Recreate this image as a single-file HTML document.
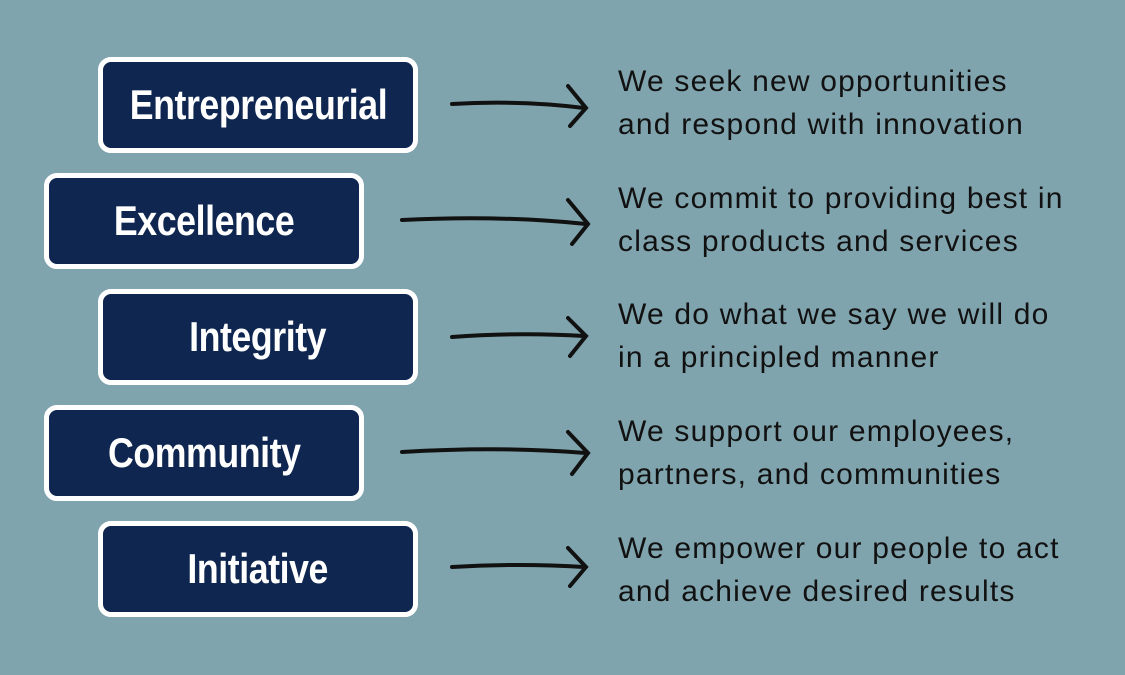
<!DOCTYPE html>
<html><head><style>
body{margin:0;width:1125px;height:675px;background:#80a4ae;position:relative;overflow:hidden;font-family:"Liberation Sans",sans-serif}
.b{position:absolute;width:310px;height:86px;background:#0e2650;border:5px solid #fff;border-radius:13px;color:#fff;font-family:"Liberation Sans",sans-serif;font-weight:bold;font-size:42px;display:flex;align-items:center;justify-content:center;box-sizing:content-box}
.b span{display:inline-block;transform:scaleX(0.85);letter-spacing:-0.5px}
.t{position:absolute;left:618px;color:#111;font-size:30px;line-height:43px;letter-spacing:1.2px}
svg{position:absolute;left:0;top:0}
</style></head><body>
<div class="b" style="left:98px;top:57px"><span>Entrepreneurial</span></div>
<div class="b" style="left:44px;top:173px"><span>Excellence</span></div>
<div class="b" style="left:98px;top:289px"><span>Integrity</span></div>
<div class="b" style="left:44px;top:405px"><span>Community</span></div>
<div class="b" style="left:98px;top:521px"><span>Initiative</span></div>
<svg width="1125" height="675" fill="none" stroke="#111" stroke-width="4" stroke-linecap="round">
<path d="M452 104 Q520 100 584 108"/><path d="M568 86 L586 108 L570 126"/>
<path d="M402 220 Q500 215 586 224"/><path d="M568 200 L588 224 L572 244"/>
<path d="M452 337 Q520 332 584 336"/><path d="M568 318 L586 336 L570 356"/>
<path d="M402 452 Q500 446 586 453"/><path d="M568 432 L588 453 L572 474"/>
<path d="M452 567 Q520 563 584 567"/><path d="M568 548 L586 567 L570 586"/>
</svg>
<div class="t" style="top:60px">We seek new opportunities<br>and respond with innovation</div>
<div class="t" style="top:177px">We commit to providing best in<br>class products and services</div>
<div class="t" style="top:293px">We do what we say we will do<br>in a principled manner</div>
<div class="t" style="top:410px">We support our employees,<br>partners, and communities</div>
<div class="t" style="top:527px">We empower our people to act<br>and achieve desired results</div>
</body></html>
